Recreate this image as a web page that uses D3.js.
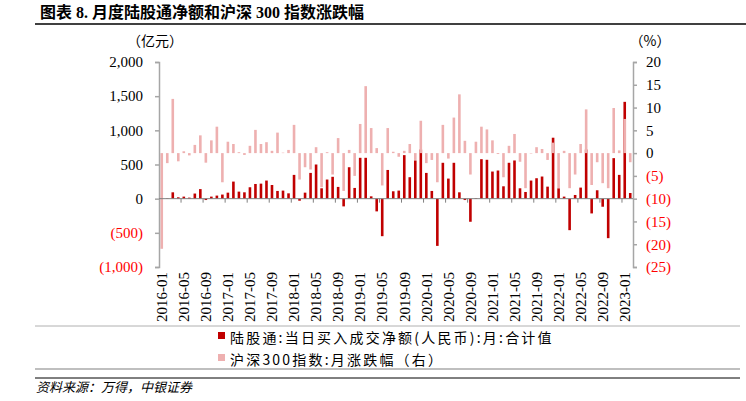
<!DOCTYPE html>
<html><head><meta charset="utf-8">
<title>月度陆股通净额和沪深300指数涨跌幅</title>
<style>
body { margin: 0; background: #fff; }
svg { display: block; }
.num { font-family: "Liberation Serif", "Times New Roman", serif; font-size: 15px; }
.cjk { font-family: "Noto Sans CJK SC", sans-serif; }
</style>
<script src="https://d3js.org/d3.v7.min.js"></script>
</head>
<body>
<svg id="chart" width="746" height="401"></svg>
<script>
// months 2016-01 .. 2023-02
const months = [];
for (let y = 2016; y <= 2023; y++) {
    for (let m = 1; m <= 12; m++) {
        if (y === 2023 && m > 2) break;
        months.push(y + "-" + String(m).padStart(2, "0"));
    }
}

// 陆股通 net buy, 亿元
const northbound = [
    10, 5, 93, 20, 30, 15, 75, 140, -20, 30, 45, 60,
    88, 250, 103, 93, 167, 215, 220, 265, 200, 113, 118, 78,
    348, -30, 88, 377, 500, 152, 280, 320, 172, -113, 460, 157,
    598, 598, 34, -186, -549, 420, 108, 118, 637, 314, 559, 720,
    377, 113, -691, 525, 294, 525, 93, -20, -338, 8, 578, 569,
    397, 412, 181, 525, 559, 152, 98, 265, 299, 324, 176, 892,
    152, 30, -461, 54, 162, 720, -216, 123, -118, -578, 593, 348,
    1417, 83
];

// 沪深300 monthly change, %
const csi300 = [
    -21.0, -2.2, 11.9, -1.8, 0.4, -0.5, 1.8, 3.9, -2.1, 2.8, 5.8, -6.4,
    2.5, 2.0, 0.2, -0.4, 1.6, 5.1, 2.0, 2.4, 0.5, 4.5, 0.1, 0.7,
    6.2, -5.8, -3.1, -3.6, 1.3, -7.5, 0.2, -4.7, 3.3, -8.3, 0.7, -5.0,
    6.4, 14.7, 5.5, 1.1, -7.1, 5.5, 0.3, -0.8, 0.5, 2.0, -1.5, 7.1,
    -2.2, -1.5, -6.4, 6.2, -1.2, 7.8, 12.9, 2.7, -4.7, 2.5, 5.8, 5.2,
    2.8, -0.2, -5.3, 1.6, 4.2, -1.9, -7.7, -0.1, 1.3, 0.9, -1.5, 2.3,
    -7.7, 0.5, -7.7, -4.7, 2.0, 9.6, -7.0, -2.0, -6.6, -7.7, 9.9, 0.6,
    7.5, -2.0
];

const leftTicks = [-1000, -500, 0, 500, 1000, 1500, 2000];
const rightTicks = [-25, -20, -15, -10, -5, 0, 5, 10, 15, 20];

const RED = "#c00000", PINK = "#eeb0b0", AXIS = "#a6a6a6";

const svg = d3.select("#chart");
const plotL = 159, plotR = 633, plotT = 62, plotB = 267;

const x = d3.scaleBand().domain(months).range([plotL, plotR]).padding(0);
const yL = d3.scaleLinear().domain([-1000, 2000]).range([plotB, plotT]);
const yR = d3.scaleLinear().domain([-25, 20]).range([plotB, plotT]);

const paren = v => v < 0 ? "(" + d3.format(",")(-v) + ")" : d3.format(",")(v);

// title
svg.append("text").attr("x", 40).attr("y", 18)
    .style("font-family", "'Liberation Serif', 'Noto Sans CJK SC', serif")
    .style("font-weight", "bold").style("font-size", "16px")
    .text("图表 8. 月度陆股通净额和沪深 300 指数涨跌幅");
svg.append("line").attr("x1", 35).attr("x2", 746).attr("y1", 24).attr("y2", 24)
    .attr("stroke", "#000").attr("stroke-width", 1.5);

// units
svg.append("text").attr("class", "cjk").attr("x", 155).attr("y", 46)
    .attr("text-anchor", "middle").style("font-size", "14px").text("（亿元）");
svg.append("text").attr("class", "cjk").attr("x", 650).attr("y", 46)
    .attr("text-anchor", "middle").style("font-size", "14px").text("（%）");

// bars
const bw = 2.6;
svg.append("g").selectAll("rect").data(months).join("rect")
    .attr("x", d => x(d) + x.bandwidth() / 2 - bw / 2)
    .attr("width", bw)
    .attr("y", (d, i) => yL(Math.max(0, northbound[i])))
    .attr("height", (d, i) => Math.abs(yL(northbound[i]) - yL(0)))
    .attr("fill", RED);

svg.append("g").selectAll("rect").data(months).join("rect")
    .attr("x", d => x(d) + x.bandwidth() / 2 - bw / 2)
    .attr("width", bw)
    .attr("y", (d, i) => yR(Math.max(0, csi300[i])))
    .attr("height", (d, i) => Math.abs(yR(csi300[i]) - yR(0)))
    .attr("fill", PINK);

// left axis
const gL = svg.append("g").attr("transform", `translate(${plotL},0)`)
    .call(d3.axisLeft(yL).tickValues(leftTicks).tickSize(4).tickPadding(12).tickFormat(paren));
gL.selectAll(".domain, .tick line").attr("stroke", AXIS).attr("stroke-width", 1.5);
gL.selectAll("text").attr("class", "num")
    .attr("fill", d => d < 0 ? "#ff0000" : "#000");

// right axis
const gR = svg.append("g").attr("transform", `translate(${plotR},0)`)
    .call(d3.axisRight(yR).tickValues(rightTicks).tickSize(4).tickPadding(9).tickFormat(paren));
gR.selectAll(".domain, .tick line").attr("stroke", AXIS).attr("stroke-width", 1.5);
gR.selectAll("text").attr("class", "num")
    .attr("fill", d => d < 0 ? "#ff0000" : "#000");

// x axis line at left zero
svg.append("line").attr("x1", plotL).attr("x2", plotR)
    .attr("y1", yL(0)).attr("y2", yL(0)).attr("stroke", "#808080").attr("stroke-width", 1);
const labelMonths = months.filter((d, i) => i % 4 === 0);
svg.append("g").selectAll("line").data(labelMonths.slice(1)).join("line")
    .attr("x1", d => x(d)).attr("x2", d => x(d))
    .attr("y1", yL(0)).attr("y2", yL(0) + 4)
    .attr("stroke", "#808080").attr("stroke-width", 1);

svg.append("g").selectAll("text").data(labelMonths).join("text")
    .attr("class", "num")
    .attr("transform", d => `translate(${x(d) + x.bandwidth() / 2},272) rotate(-90)`)
    .attr("text-anchor", "end").attr("dy", "0.35em")
    .text(d => d);

// frame lines
svg.append("line").attr("x1", 35).attr("x2", 740).attr("y1", 326).attr("y2", 326)
    .attr("stroke", "#b0b0b0").attr("stroke-width", 1);

// legend
const legend = [
    { label: "陆股通:当日买入成交净额(人民币):月:合计值", color: RED },
    { label: "沪深300指数:月涨跌幅（右）", color: PINK }
];
const lg = svg.append("g").selectAll("g").data(legend).join("g")
    .attr("transform", (d, i) => `translate(218,${338 + i * 22})`);
lg.append("rect").attr("x", 0).attr("y", -6).attr("width", 7).attr("height", 7)
    .attr("fill", d => d.color);
lg.append("text").attr("class", "cjk").attr("x", 12).attr("y", 0).attr("dy", "0.35em")
    .style("font-size", "14px").style("letter-spacing", "2.2px")
    .text(d => d.label);

svg.append("line").attr("x1", 35).attr("x2", 740).attr("y1", 369).attr("y2", 369)
    .attr("stroke", "#bfbfbf").attr("stroke-width", 2);
svg.append("line").attr("x1", 35).attr("x2", 740).attr("y1", 378).attr("y2", 378)
    .attr("stroke", "#000").attr("stroke-width", 1);

// source
svg.append("text").attr("class", "cjk").attr("x", 36).attr("y", 392)
    .style("font-size", "13px").style("font-style", "italic")
    .text("资料来源：万得，中银证券");
</script>
</body></html>
